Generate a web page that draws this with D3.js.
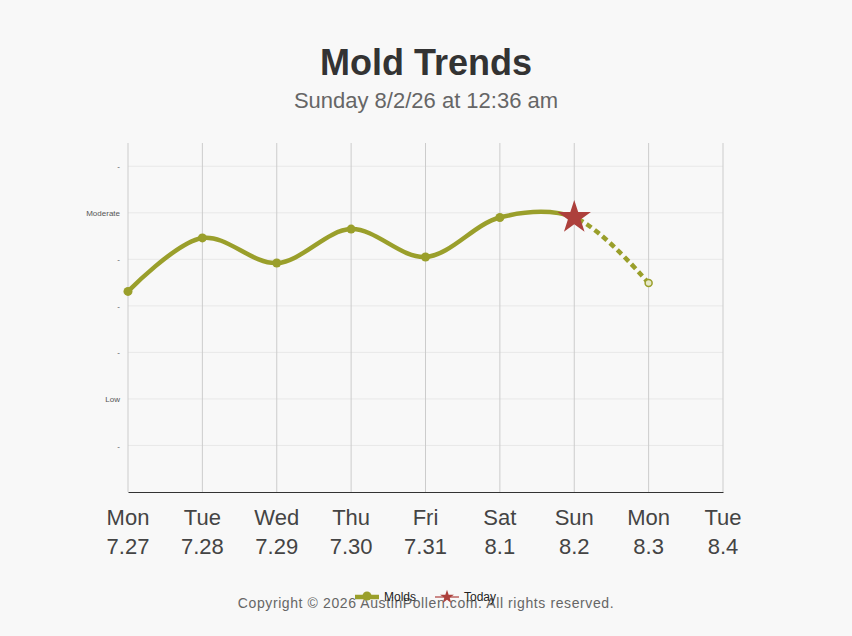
<!DOCTYPE html>
<html>
<head>
<meta charset="utf-8">
<title>Mold Trends</title>
<script src="https://cdnjs.cloudflare.com/ajax/libs/d3/7.8.5/d3.min.js"></script>
<style>
  body { margin: 0; background: #f8f8f8; }
  svg { display: block; font-family: "Liberation Sans", Arial, sans-serif; }
</style>
</head>
<body>
<script>
var days = ["Mon", "Tue", "Wed", "Thu", "Fri", "Sat", "Sun", "Mon", "Tue"];
var dates = ["7.27", "7.28", "7.29", "7.30", "7.31", "8.1", "8.2", "8.3", "8.4"];
var molds = [4.31, 5.46, 4.92, 5.65, 5.05, 5.90, 5.90, 4.49, null];
var todayIndex = 6;
var yTickValues = [1, 2, 3, 4, 5, 6, 7];
var yTickLabels = ["-", "Low", "-", "-", "-", "Moderate", "-"];

var W = 852, H = 636;
var plotL = 128, plotR = 723, plotT = 143, plotB = 492;
var olive = "#9a9f2b", red = "#ad403c";

var svg = d3.select("body").append("svg")
    .attr("width", W)
    .attr("height", H);

svg.append("rect").attr("width", W).attr("height", H).attr("fill", "#f8f8f8");

// titles
svg.append("text")
    .attr("x", W / 2).attr("y", 75)
    .attr("text-anchor", "middle")
    .attr("font-size", 36).attr("font-weight", "bold")
    .attr("fill", "#333")
    .text("Mold Trends");

svg.append("text")
    .attr("x", W / 2).attr("y", 108)
    .attr("text-anchor", "middle")
    .attr("font-size", 22)
    .attr("fill", "#666")
    .text("Sunday 8/2/26 at 12:36 am");

var x = d3.scalePoint()
    .domain(d3.range(days.length))
    .range([plotL, plotR]);

var y = d3.scaleLinear()
    .domain([0, 7.5])
    .range([plotB, plotT]);

// horizontal grid
svg.append("g")
    .selectAll("line")
    .data(yTickValues)
    .join("line")
    .attr("x1", plotL).attr("x2", plotR)
    .attr("y1", function(d) { return y(d); })
    .attr("y2", function(d) { return y(d); })
    .attr("stroke", "#e8e8e8")
    .attr("stroke-width", 1);

// vertical grid
svg.append("g")
    .selectAll("line")
    .data(d3.range(days.length))
    .join("line")
    .attr("x1", function(d) { return x(d); })
    .attr("x2", function(d) { return x(d); })
    .attr("y1", plotT).attr("y2", plotB)
    .attr("stroke", "#cccccc")
    .attr("stroke-width", 1);

// y axis labels
var yAxis = d3.axisLeft(y)
    .tickValues(yTickValues)
    .tickSize(0)
    .tickPadding(8)
    .tickFormat(function(d, i) { return yTickLabels[i]; });

var gy = svg.append("g")
    .attr("transform", "translate(" + plotL + ",0)")
    .call(yAxis);
gy.select(".domain").remove();
gy.selectAll("text")
    .attr("font-size", 8)
    .attr("fill", "#555")
    .attr("font-family", "Liberation Sans, Arial, sans-serif");

// x axis
var xAxis = d3.axisBottom(x).tickSize(0).tickFormat("");
var gx = svg.append("g")
    .attr("transform", "translate(0," + plotB + ")")
    .call(xAxis);
gx.select(".domain").attr("stroke", "#333").attr("stroke-width", 1);

var xl = svg.append("g").selectAll("text")
    .data(d3.range(days.length))
    .join("text")
    .attr("x", function(d) { return x(d); })
    .attr("text-anchor", "middle")
    .attr("font-size", 22)
    .attr("fill", "#444");
xl.append("tspan").attr("x", function(d) { return x(d); }).attr("y", 525)
    .text(function(d) { return days[d]; });
xl.append("tspan").attr("x", function(d) { return x(d); }).attr("y", 554)
    .text(function(d) { return dates[d]; });

// series
var pts = molds.map(function(v, i) { return { i: i, v: v }; })
    .filter(function(d) { return d.v !== null; });

var line = d3.line()
    .x(function(d) { return x(d.i); })
    .y(function(d) { return y(d.v); })
    .curve(d3.curveCatmullRom.alpha(0.5));

var defs = svg.append("defs");
defs.append("clipPath").attr("id", "past")
    .append("rect")
    .attr("x", 0).attr("y", 0)
    .attr("width", x(todayIndex)).attr("height", H);
defs.append("clipPath").attr("id", "future")
    .append("rect")
    .attr("x", x(todayIndex)).attr("y", 0)
    .attr("width", W - x(todayIndex)).attr("height", H);

svg.append("path")
    .attr("d", line(pts))
    .attr("clip-path", "url(#past)")
    .attr("fill", "none")
    .attr("stroke", olive)
    .attr("stroke-width", 4.5)
    .attr("stroke-linecap", "round");

svg.append("path")
    .attr("d", line(pts))
    .attr("clip-path", "url(#future)")
    .attr("fill", "none")
    .attr("stroke", olive)
    .attr("stroke-width", 4.5)
    .attr("stroke-dasharray", "6,4");

// markers
svg.append("g").selectAll("circle")
    .data(pts.filter(function(d) { return d.i < todayIndex; }))
    .join("circle")
    .attr("cx", function(d) { return x(d.i); })
    .attr("cy", function(d) { return y(d.v); })
    .attr("r", 4.5)
    .attr("fill", olive);

svg.append("g").selectAll("circle")
    .data(pts.filter(function(d) { return d.i > todayIndex; }))
    .join("circle")
    .attr("cx", function(d) { return x(d.i); })
    .attr("cy", function(d) { return y(d.v); })
    .attr("r", 3.5)
    .attr("fill", "#e6e8c8")
    .attr("stroke", olive)
    .attr("stroke-width", 1.5);

var star = d3.symbol().type(d3.symbolStar);
svg.append("g").selectAll("path")
    .data(pts.filter(function(d) { return d.i === todayIndex; }))
    .join("path")
    .attr("d", star.size(345)())
    .attr("transform", function(d) { return "translate(" + x(d.i) + "," + y(d.v) + ")"; })
    .attr("fill", red);

// copyright
svg.append("text")
    .attr("x", W / 2).attr("y", 608)
    .attr("text-anchor", "middle")
    .attr("font-size", 14)
    .attr("letter-spacing", 0.6)
    .attr("fill", "#666")
    .text("Copyright \u00a9 2026 AustinPollen.com.  All rights reserved.");

// legend
var legend = svg.append("g");
legend.append("line")
    .attr("x1", 355).attr("x2", 379).attr("y1", 597).attr("y2", 597)
    .attr("stroke", olive).attr("stroke-width", 4.5);
legend.append("circle").attr("cx", 367).attr("cy", 596).attr("r", 4.5).attr("fill", olive);
legend.append("text").attr("x", 384).attr("y", 601)
    .attr("font-size", 12).attr("fill", "#222").text("Molds");

legend.append("line")
    .attr("x1", 435).attr("x2", 459).attr("y1", 597).attr("y2", 597)
    .attr("stroke", red).attr("stroke-opacity", 0.6).attr("stroke-width", 2);
legend.append("path")
    .attr("d", star.size(60)())
    .attr("transform", "translate(447,597)")
    .attr("fill", red);
legend.append("text").attr("x", 464).attr("y", 601)
    .attr("font-size", 12).attr("fill", "#222").text("Today");
</script>
</body>
</html>
